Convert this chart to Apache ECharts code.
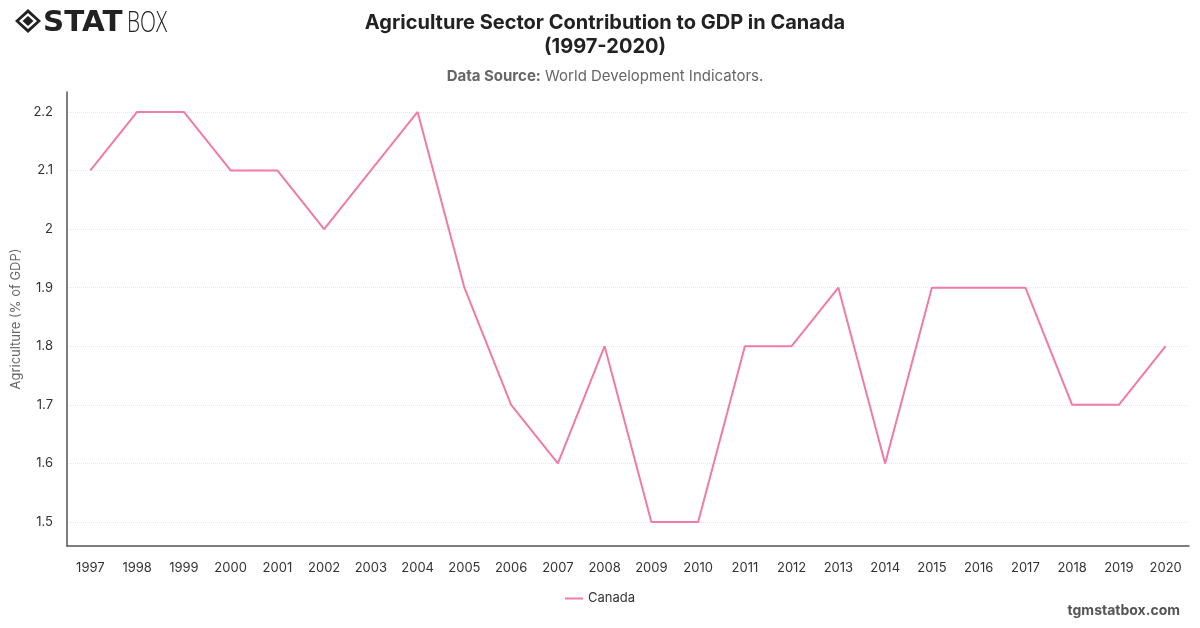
<!DOCTYPE html>
<html>
<head>
<meta charset="utf-8">
<script src="https://cdn.jsdelivr.net/npm/echarts@6/dist/echarts.min.js"></script>
<style>html,body{margin:0;padding:0;background:#fff}#c{width:1200px;height:628px}</style>
</head>
<body>
<div id="c"></div>
<script>
var years = ['1997','1998','1999','2000','2001','2002','2003','2004','2005','2006','2007','2008','2009','2010','2011','2012','2013','2014','2015','2016','2017','2018','2019','2020'];
var canada = [2.1,2.2,2.2,2.1,2.1,2.0,2.1,2.2,1.9,1.7,1.6,1.8,1.5,1.5,1.8,1.8,1.9,1.6,1.9,1.9,1.9,1.7,1.7,1.8];
var seriesName = 'Canada';
var yName = 'Agriculture (% of GDP)';
var titleText = 'Agriculture Sector Contribution to GDP in Canada\n(1997-2020)';

var chart = echarts.init(document.getElementById('c'), null, {renderer: 'canvas'});
var font = 'Inter, "Noto Sans", sans-serif';
chart.setOption({
  backgroundColor: '#fff',
  animation: false,
  textStyle: {fontFamily: font},
  title: {
    text: titleText,
    left: 600, top: 6, textAlign: 'center',
    textStyle: {fontSize: 20, fontWeight: 'bold', color: '#222', lineHeight: 24, fontFamily: font},
    subtext: '{b|Data Source:} World Development Indicators.',
    itemGap: 10,
    subtextStyle: {fontSize: 15, color: '#666', fontFamily: font, rich: {b: {fontSize: 15, fontWeight: 'bold', color: '#666', fontFamily: font}}}
  },
  legend: {
    bottom: 18, left: 'center', itemWidth: 18, itemHeight: 2, icon: 'rect',
    textStyle: {fontSize: 13, color: '#333', fontFamily: font},
    data: [seriesName]
  },
  grid: {left: 67, right: 11, top: 92, bottom: 82},
  xAxis: {
    type: 'category', data: years, boundaryGap: true,
    axisLine: {lineStyle: {color: '#555', width: 1.5}},
    axisTick: {show: false},
    axisLabel: {color: '#333', fontSize: 13, margin: 16, interval: 0}
  },
  yAxis: {
    type: 'value', min: 1.459, max: 2.234, splitNumber: 8,
    name: yName, nameLocation: 'middle', nameGap: 34,
    nameTextStyle: {color: '#666', fontSize: 13},
    axisLine: {show: true, lineStyle: {color: '#555', width: 1.5}},
    axisTick: {show: false},
    axisLabel: {color: '#333', fontSize: 13, margin: 14, showMinLabel: false, showMaxLabel: false},
    splitLine: {show: true, lineStyle: {color: '#e6e6e6', type: 'dotted'}}
  },
  series: [{
    name: seriesName, type: 'line', data: canada,
    symbol: 'none', lineStyle: {color: '#f07ba8', width: 2},
    itemStyle: {color: '#f07ba8'}
  }],
  graphic: [
    {type: 'rect', left: 69, top: 90, shape: {width: 1123, height: 3}, style: {fill: '#fff'}, z: 100},
    {type: 'group', left: 15, top: 9, children: [
      {type: 'polygon', shape: {points: [[13,0],[26,12],[13,24],[0,12]]}, style: {fill: '#222'}},
      {type: 'polygon', shape: {points: [[13,4],[22,12],[13,20],[4,12]]}, style: {fill: '#fff'}},
      {type: 'polygon', shape: {points: [[13,7],[18.5,12],[13,17],[7.5,12]]}, style: {fill: '#222'}},
      {type: 'text', x: 28, y: 1, scaleX: 1.05, style: {text: 'STAT', font: 'bold 28px "DejaVu Sans", sans-serif', fill: '#222'}},
      {type: 'text', x: 112, y: 0, scaleX: 0.72, style: {text: 'BOX', font: '300 29px "Open Sans", sans-serif', fill: '#222'}}
    ]},
    {type: 'text', right: 20, top: 604, style: {text: 'tgmstatbox.com', font: 'bold 14px ' + font, fill: '#555'}}
  ]
});
</script>
</body>
</html>
